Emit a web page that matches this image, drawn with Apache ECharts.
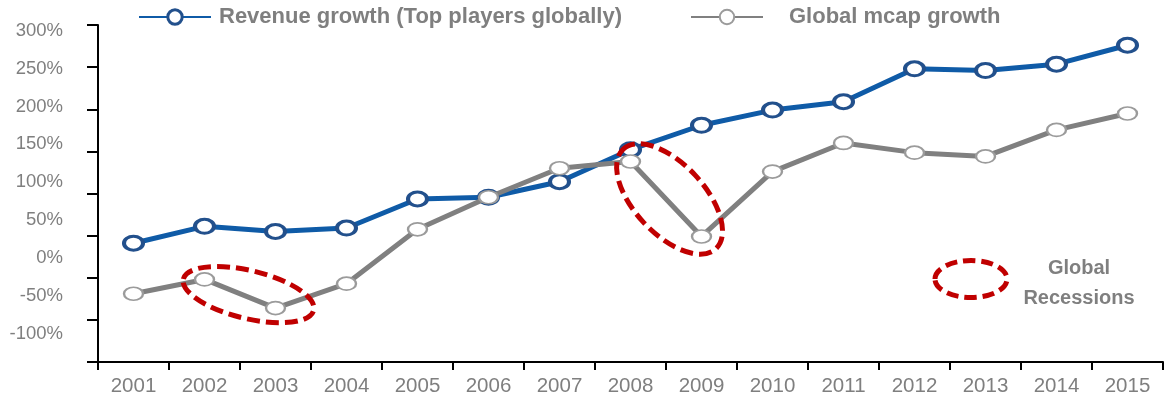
<!DOCTYPE html>
<html>
<head>
<meta charset="utf-8">
<script src="https://cdn.jsdelivr.net/npm/echarts@6/dist/echarts.min.js"></script>
<style>
  html, body { margin: 0; padding: 0; background: #fff; }
  #chart { width: 1167px; height: 400px; }
</style>
</head>
<body>
<div id="chart"></div>
<script>
// Years on the category axis
const years = ['2001', '2002', '2003', '2004', '2005', '2006', '2007', '2008',
               '2009', '2010', '2011', '2012', '2013', '2014', '2015'];

// Cumulative growth since 2000, in percent
const revenueGrowth = [41, 61, 55, 59, 93.5, 95.5, 114, 152, 181, 199, 209, 248, 246, 253.5, 276];
const mcapGrowth = [-19, -2, -36, -7, 57.5, 95.5, 130, 138, 49, 126, 160, 148.5, 144, 175.5, 195];

// Percent tick labels on the value axis
const percentTicks = [-100, -50, 0, 50, 100, 150, 200, 250, 300];

const seriesNames = ['Revenue growth (Top players globally)', 'Global mcap growth'];
const keyLines = ['Global', 'Recessions'];

const FONT = '"Liberation Sans", Arial, sans-serif';
const TEXT_GREY = '#7f7f7f';
const BLUE_LINE = '#0f5ba7';
const BLUE_RING = '#22508c';
const GREY_LINE = '#808080';
const GREY_RING = '#9b9b9b';
const RED = '#c00000';

const chart = echarts.init(document.getElementById('chart'), null, { renderer: 'canvas' });

chart.setOption({
  backgroundColor: '#fff',
  animation: false,
  legend: [
    {
      data: [seriesNames[0]],
      left: 138, top: 6, padding: 0,
      itemWidth: 72, itemHeight: 18,
      itemStyle: { borderWidth: 3 },
      textStyle: { fontFamily: FONT, fontSize: 22, fontWeight: 'bold', color: TEXT_GREY, padding: [0, 0, 0, 3] }
    },
    {
      data: [seriesNames[1]],
      left: 690, top: 6, padding: 0,
      itemWidth: 72, itemHeight: 18,
      itemStyle: { borderWidth: 2 },
      textStyle: { fontFamily: FONT, fontSize: 22, fontWeight: 'bold', color: TEXT_GREY, padding: [0, 0, 0, 21] }
    }
  ],
  grid: { left: 98, right: 4, top: 25, bottom: 38, outerBoundsMode: 'none', containLabel: false },
  xAxis: {
    type: 'category',
    data: years,
    boundaryGap: true,
    axisLine: { show: true, onZero: false, lineStyle: { color: '#000', width: 2 } },
    axisTick: { show: true, length: 8, lineStyle: { color: '#000', width: 2 } },
    axisLabel: { interval: 0, margin: 14, fontFamily: FONT, fontSize: 20.5, color: TEXT_GREY },
    splitLine: { show: false }
  },
  yAxis: [
    {
      // scale that the lines are plotted against
      type: 'value',
      position: 'left',
      min: -100, max: 300, interval: 50,
      axisLine: { show: true, lineStyle: { color: '#000', width: 2 } },
      axisTick: { show: true, length: 11, lineStyle: { color: '#000', width: 2 } },
      axisLabel: { show: false },
      splitLine: { show: false }
    },
    {
      // percent labels column
      type: 'value',
      position: 'left',
      offset: 0,
      min: -137.5, max: 307.5,
      axisLine: { show: false },
      axisTick: { show: false },
      splitLine: { show: false },
      axisLabel: {
        customValues: percentTicks,
        margin: 35,
        fontFamily: FONT, fontSize: 18.5, color: TEXT_GREY,
        formatter: v => v + '%'
      }
    }
  ],
  series: [
    {
      name: seriesNames[0],
      type: 'line',
      data: revenueGrowth,
      yAxisIndex: 0,
      symbol: 'circle',
      symbolSize: [19, 14],
      lineStyle: { color: BLUE_LINE, width: 5 },
      itemStyle: { color: '#fff', borderColor: BLUE_RING, borderWidth: 3.5 },
      z: 2
    },
    {
      name: seriesNames[1],
      type: 'line',
      data: mcapGrowth,
      yAxisIndex: 0,
      symbol: 'circle',
      symbolSize: [19, 13],
      lineStyle: { color: GREY_LINE, width: 5 },
      itemStyle: { color: '#fff', borderColor: GREY_RING, borderWidth: 2 },
      z: 3
    }
  ]
});

// Dashed rings marking the two global recessions, anchored between category points
function ringAt(fromIdx, toIdx, t, value) {
  const x0 = chart.convertToPixel({ xAxisIndex: 0 }, years[fromIdx]);
  const x1 = chart.convertToPixel({ xAxisIndex: 0 }, years[toIdx]);
  const y = chart.convertToPixel({ yAxisIndex: 0 }, value);
  return [x0 + (x1 - x0) * t, y];
}

function dashedRing(center, rx, ry, deg) {
  return {
    type: 'ellipse',
    x: center[0], y: center[1],
    rotation: -deg * Math.PI / 180,
    shape: { cx: 0, cy: 0, rx: rx, ry: ry },
    style: { fill: 'none', stroke: RED, lineWidth: 5, lineDash: [13, 6] },
    z: 10
  };
}

const ring2002 = ringAt(1, 2, 0.62, -20);
const ring2008 = ringAt(7, 8, 0.55, 93.5);

chart.setOption({
  graphic: [
    dashedRing(ring2002, 67, 24, 13.5),
    dashedRing(ring2008, 68, 35, 47),
    {
      type: 'group',
      x: 933, y: 258,
      children: [
        {
          type: 'ellipse',
          shape: { cx: 38, cy: 21, rx: 36, ry: 18.5 },
          style: { fill: 'none', stroke: RED, lineWidth: 5, lineDash: [12, 6] }
        },
        {
          type: 'text',
          x: 146, y: 25,
          style: {
            text: keyLines.join('\n'),
            fontFamily: FONT, fontSize: 20, fontWeight: 'bold', fill: TEXT_GREY,
            align: 'center', verticalAlign: 'middle', lineHeight: 30
          }
        }
      ]
    }
  ]
});
</script>
</body>
</html>
